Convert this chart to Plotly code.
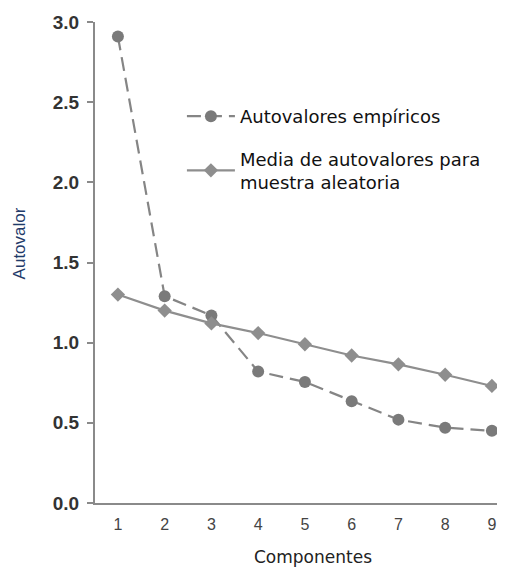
import plotly.graph_objects as go

componentes = [1, 2, 3, 4, 5, 6, 7, 8, 9]
empiricos = [2.91, 1.29, 1.17, 0.82, 0.755, 0.635, 0.52, 0.47, 0.45]
aleatoria = [1.30, 1.20, 1.12, 1.06, 0.99, 0.92, 0.865, 0.80, 0.73]
y_ticks = [0.0, 0.5, 1.0, 1.5, 2.0, 2.5, 3.0]
y_tick_labels = ["0.0", "0.5", "1.0", "1.5", "2.0", "2.5", "3.0"]

fig = go.Figure()
fig.add_trace(go.Scatter(
    x=componentes, y=empiricos, mode="lines+markers",
    name="Autovalores empíricos",
    line=dict(color="#858585", width=2.2, dash="14px,7px"),
    marker=dict(symbol="circle", size=12, color="#7a7a7a"),
    legendgroup="a",
))
fig.add_trace(go.Scatter(
    x=componentes, y=aleatoria, mode="lines+markers",
    name="Media de autovalores para<br>muestra aleatoria",
    line=dict(color="#8e8e8e", width=2.2),
    marker=dict(symbol="diamond", size=11, color="#8e8e8e"),
    legendgroup="b",
))

fig.update_layout(
    width=497, height=561,
    margin=dict(l=87, r=0, t=14, b=66),
    paper_bgcolor="white", plot_bgcolor="white",
    showlegend=True,
    legend=dict(
        x=0.212, y=0.842, xanchor="left", yanchor="top",
        font=dict(family="DejaVu Sans", size=18, color="#111111"),
        bgcolor="rgba(0,0,0,0)", itemwidth=48,
        traceorder="grouped", tracegroupgap=16,
    ),
    xaxis=dict(
        range=[0.51, 9.28], tickvals=componentes,
        showgrid=False, zeroline=False,
        showline=True, linecolor="#8a8a8a", linewidth=2,
        ticks="", ticklabelstandoff=6,
        tickfont=dict(family="Liberation Sans", size=16, color="#444444"),
    ),
    yaxis=dict(
        range=[0, 3.0], tickvals=y_ticks, ticktext=y_tick_labels,
        showgrid=False, zeroline=False,
        showline=True, linecolor="#8a8a8a", linewidth=2,
        ticks="outside", ticklen=6, tickcolor="#8a8a8a", tickwidth=1.5,
        ticklabelstandoff=4,
        tickfont=dict(family="Liberation Sans", size=19, color="#333333", weight="bold"),
    ),
    annotations=[
        dict(
            text="Autovalor", textangle=-90, xref="paper", yref="paper",
            x=-0.185, y=0.54, xanchor="center", yanchor="middle", showarrow=False,
            font=dict(family="Liberation Sans", size=17, color="#1f3b6a"),
        ),
        dict(
            text="Componentes", xref="paper", yref="paper",
            x=0.532, y=-0.112, xanchor="center", yanchor="middle", showarrow=False,
            font=dict(family="DejaVu Sans", size=17, color="#222222"),
        ),
    ],
)

fig.write_html("out.html")
